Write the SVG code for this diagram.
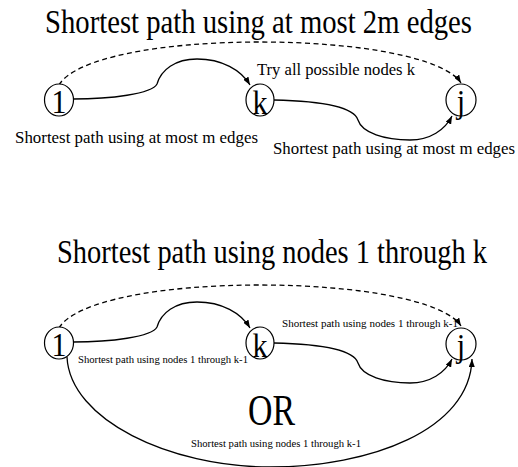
<svg xmlns="http://www.w3.org/2000/svg" width="518" height="467" viewBox="0 0 518 467">
<defs>
<marker id="arr" viewBox="0 0 8 6" refX="8" refY="3" markerWidth="8" markerHeight="6" markerUnits="userSpaceOnUse" orient="auto">
<path d="M0,0 L8,3 L0,6 z" fill="#000"/>
</marker>
<style>
text{font-family:"Liberation Serif","Times New Roman",serif;fill:#000}
.title{font-size:28.5px}
.lbl{font-size:17px}
.sm{font-size:11px}
.nl{font-size:30px;text-anchor:middle}
.node ellipse{fill:#fff;stroke:#000;stroke-width:1.2}
.edge{fill:none;stroke:#000;stroke-width:1.3;marker-end:url(#arr)}
.dash{stroke-dasharray:5,3.5}
</style>
</defs>
<rect width="518" height="467" fill="#fff"/>

<text class="title" transform="translate(45,33) scale(1,1.2)" textLength="427" lengthAdjust="spacingAndGlyphs">Shortest path using at most 2m edges</text>
<text class="title" transform="translate(57,263) scale(1,1.2)" textLength="430" lengthAdjust="spacingAndGlyphs">Shortest path using nodes 1 through k</text>

<g id="connectors">
<path class="edge dash" d="M59,85 C75,58 160,42 260,42 C360,42 445,58 461,83"/>
<path class="edge" d="M73,99 C110,99 152,94 157,84 C161,70 175,59 197,59 C222,59 241,70 250,85"/>
<path class="edge" d="M274,100 C320,101 354,107 358,120 C362,133 385,140 410,140 C430,140 445,130 452,116"/>

<path class="edge dash" d="M59,328 C75,301 160,285 260,285 C360,285 445,301 461,326"/>
<path class="edge" d="M73,342 C110,342 152,337 157,327 C161,313 175,302 197,302 C222,302 241,313 250,328"/>
<path class="edge" d="M274,343 C320,344 354,350 358,363 C362,376 385,383 410,383 C430,383 445,373 452,359"/>
<path class="edge" d="M67,357 C70,420 170,467 270,467 C370,467 470,430 472,359"/>
</g>

<g id="node-i-top" class="node"><ellipse cx="59" cy="100" rx="14.5" ry="16"/><text class="nl" transform="translate(59,113) scale(1,1.15)">1</text></g>
<g id="node-k-top" class="node"><ellipse cx="260" cy="100" rx="14" ry="16"/><text class="nl" transform="translate(260,114) scale(1,1.15)">k</text></g>
<g id="node-j-top" class="node"><ellipse cx="461" cy="100" rx="15" ry="16"/><text class="nl" transform="translate(461,113) scale(1,1.15)">j</text></g>

<g id="node-i-bot" class="node"><ellipse cx="59" cy="343" rx="14.5" ry="16"/><text class="nl" transform="translate(59,356) scale(1,1.15)">1</text></g>
<g id="node-k-bot" class="node"><ellipse cx="260" cy="343" rx="14" ry="16"/><text class="nl" transform="translate(260,357) scale(1,1.15)">k</text></g>
<g id="node-j-bot" class="node"><ellipse cx="461" cy="344" rx="15" ry="16"/><text class="nl" transform="translate(461,357) scale(1,1.15)">j</text></g>

<text class="lbl" x="257" y="75" textLength="158" lengthAdjust="spacingAndGlyphs">Try all possible nodes k</text>
<text class="lbl" x="15" y="143" textLength="243" lengthAdjust="spacingAndGlyphs">Shortest path using at most m edges</text>
<text class="lbl" x="273" y="154" textLength="242" lengthAdjust="spacingAndGlyphs">Shortest path using at most m edges</text>

<text class="sm" x="282" y="327" textLength="176" lengthAdjust="spacingAndGlyphs">Shortest path using nodes 1 through k-1</text>
<text class="sm" x="78" y="363" textLength="170" lengthAdjust="spacingAndGlyphs">Shortest path using nodes 1 through k-1</text>
<text class="sm" x="191" y="447" textLength="170" lengthAdjust="spacingAndGlyphs">Shortest path using nodes 1 through k-1</text>
<text transform="translate(248,425) scale(1,1.3)" style="font-size:34px" textLength="47" lengthAdjust="spacingAndGlyphs">OR</text>
</svg>
